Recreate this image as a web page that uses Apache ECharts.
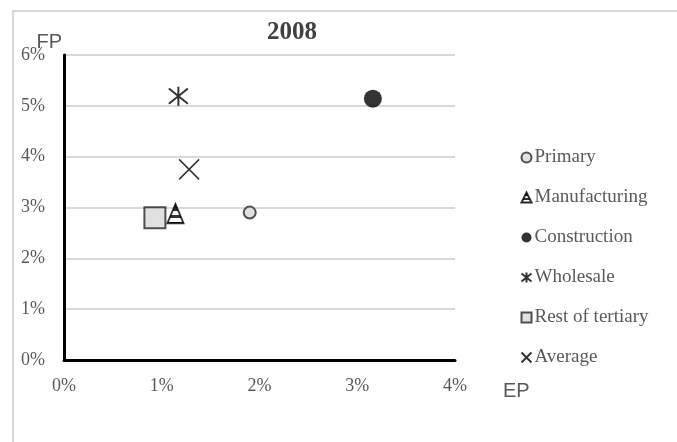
<!DOCTYPE html>
<html>
<head>
<meta charset="utf-8">
<script src="https://cdn.jsdelivr.net/npm/echarts@6/dist/echarts.min.js"></script>
<style>
  html, body { margin: 0; padding: 0; background: #fff; }
  #chart { width: 677px; height: 442px; }
</style>
</head>
<body>
<div id="chart"></div>
<script>
  // values in percent, [EP, FP]
  const seriesNames = ['Primary', 'Manufacturing', 'Construction', 'Wholesale', 'Rest of tertiary', 'Average'];
  const primary = [[1.9, 2.9]];
  const manufacturing = [[1.14, 2.88]];
  const construction = [[3.16, 5.14]];
  const wholesale = [[1.17, 5.19]];
  const restOfTertiary = [[0.93, 2.8]];
  const average = [[1.28, 3.75]];
  const xTicks = [0, 1, 2, 3, 4];
  const yTicks = [0, 1, 2, 3, 4, 5, 6];

  const serif = '"Liberation Serif", "DejaVu Serif", serif';
  const sans = '"Liberation Sans", sans-serif';
  const crossPath = 'path://M0,0L10,10M10,0L0,10';
  const starPath = 'path://M0,1L10,9M10,1L0,9M5,0L5,10';

  // striped fill for the manufacturing triangle
  const stripes = new echarts.graphic.LinearGradient(0, 0, 0, 1, [
    { offset: 0, color: '#000' },
    { offset: 0.4, color: '#000' },
    { offset: 0.4, color: '#fff' },
    { offset: 0.58, color: '#fff' },
    { offset: 0.58, color: '#000' },
    { offset: 0.72, color: '#000' },
    { offset: 0.72, color: '#fff' },
    { offset: 0.9, color: '#fff' },
    { offset: 0.9, color: '#000' },
    { offset: 1, color: '#000' },
  ]);

  const chart = echarts.init(document.getElementById('chart'));
  const option = {
    animation: false,
    backgroundColor: '#fff',
    graphic: [
      {
        type: 'rect',
        shape: { x: 13, y: 11, width: 700, height: 500 },
        style: { fill: 'none', stroke: '#d9d9d9', lineWidth: 2 },
        silent: true,
      },
    ],
    title: {
      text: '2008',
      left: 262,
      top: 15,
      textStyle: { fontFamily: serif, fontSize: 25, fontWeight: 'bold', color: '#404040' },
    },
    legend: {
      orient: 'vertical',
      left: 514,
      top: 142,
      itemWidth: 10,
      itemHeight: 10,
      itemGap: 19,
      data: seriesNames,
      textStyle: { fontFamily: serif, fontSize: 19, lineHeight: 21, color: '#595959', padding: [0, 0, 0, -2] },
    },
    grid: { left: 64, right: 222, top: 55, bottom: 82 },
    xAxis: {
      type: 'value',
      min: xTicks[0],
      max: xTicks[xTicks.length - 1],
      interval: 1,
      name: 'EP',
      nameLocation: 'end',
      nameGap: 48,
      nameMoveOverlap: false,
      nameTextStyle: {
        fontFamily: sans,
        fontSize: 20,
        color: '#595959',
        verticalAlign: 'top',
        padding: [21, 0, 0, 0],
      },
      axisLine: { show: true, lineStyle: { color: '#000', width: 3 } },
      axisTick: { show: false },
      splitLine: { show: false },
      axisLabel: { formatter: '{value}%', margin: 17, fontFamily: serif, fontSize: 18, color: '#595959' },
    },
    yAxis: {
      type: 'value',
      min: yTicks[0],
      max: yTicks[yTicks.length - 1],
      interval: 1,
      name: 'FP',
      nameLocation: 'end',
      nameGap: 23,
      nameMoveOverlap: false,
      nameTextStyle: {
        fontFamily: sans,
        fontSize: 20,
        color: '#595959',
        align: 'right',
        verticalAlign: 'top',
        padding: [0, 2, 0, 0],
      },
      axisLine: { show: true, lineStyle: { color: '#000', width: 3 } },
      axisTick: { show: false },
      splitLine: { show: true, lineStyle: { color: '#d9d9d9', width: 2 } },
      axisLabel: { formatter: '{value}%', margin: 19, fontFamily: serif, fontSize: 18, color: '#595959' },
    },
    series: [
      {
        name: 'Primary',
        type: 'scatter',
        data: primary,
        symbol: 'circle',
        symbolSize: 12,
        itemStyle: { color: '#d9d9d9', borderColor: '#262626', borderWidth: 2 },
      },
      {
        name: 'Manufacturing',
        type: 'scatter',
        data: manufacturing,
        symbol: 'triangle',
        symbolSize: [16, 19],
        itemStyle: { color: stripes, borderColor: '#000', borderWidth: 2 },
      },
      {
        name: 'Construction',
        type: 'scatter',
        data: construction,
        symbol: 'circle',
        symbolSize: 18,
        itemStyle: { color: '#000' },
      },
      {
        name: 'Wholesale',
        type: 'scatter',
        data: wholesale,
        symbol: starPath,
        symbolSize: 19,
        itemStyle: { color: 'none', borderColor: '#000', borderWidth: 2 },
      },
      {
        name: 'Rest of tertiary',
        type: 'scatter',
        data: restOfTertiary,
        symbol: 'rect',
        symbolSize: 21,
        itemStyle: { color: '#d9d9d9', borderColor: '#262626', borderWidth: 2 },
      },
      {
        name: 'Average',
        type: 'scatter',
        data: average,
        symbol: crossPath,
        symbolSize: 20,
        itemStyle: { color: 'none', borderColor: '#000', borderWidth: 1.5 },
      },
    ],
  };
  chart.setOption(option);
</script>
</body>
</html>
